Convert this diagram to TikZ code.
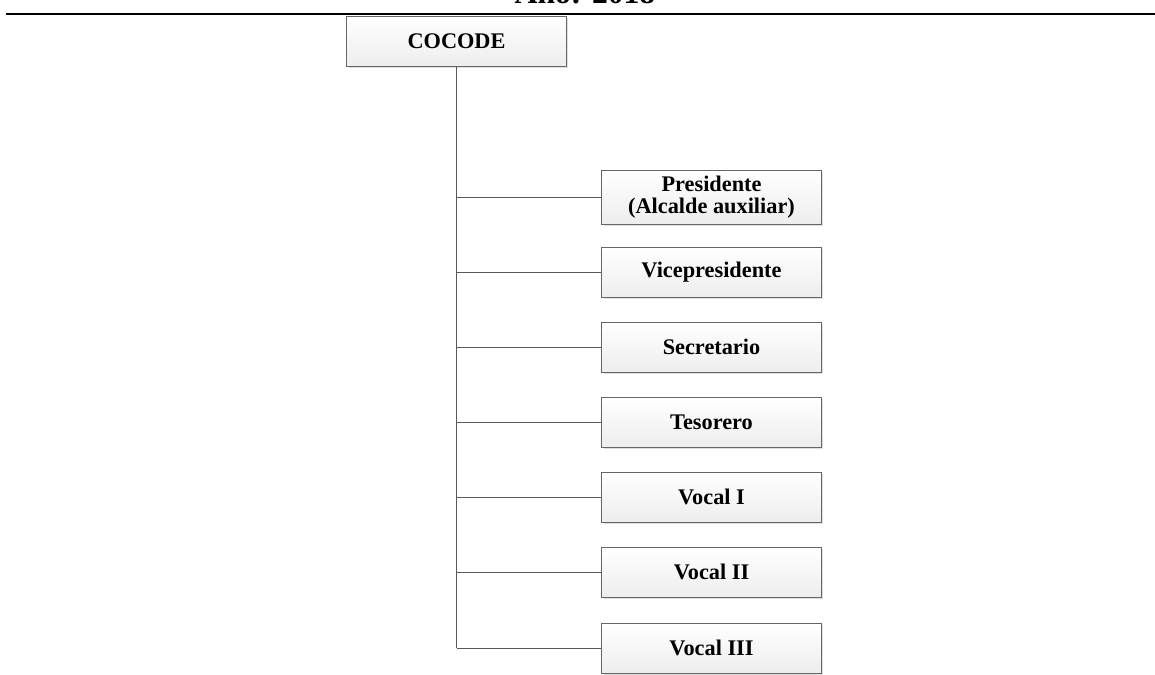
\documentclass[tikz,border=0pt]{standalone}
\usepackage{fontspec}
\setmainfont{Liberation Serif}
\usetikzlibrary{shadows}

\tikzset{
  cargo/.style={draw=gray!80!black,top color=white,bottom color=gray!14,
    minimum width=4.4cm,minimum height=1cm,align=center,
    font=\fontsize{12.7}{12.4}\selectfont\bfseries,
    drop shadow={shadow xshift=0.04cm,shadow yshift=-0.04cm,fill=gray!25,opacity=1}},
  rama/.style={draw=gray!70!black,line width=0.5pt}
}

\begin{document}
\begin{tikzpicture}[x=0.02cm,y=-0.02cm]
\useasboundingbox (0,0) rectangle (1155,675);

\node[anchor=base,font=\fontsize{18}{20}\selectfont\bfseries] (anio) at (585,4) {Año: 2018};
\coordinate (ra) at (6,14);
\coordinate (rb) at (1155,14);
\draw[line width=0.04cm] (ra)--(rb);

\node[cargo] (cocode) at (456.5,41) {COCODE};

\node[cargo] (pres) at (711.5,197) {Presidente\\(Alcalde auxiliar)};
\node[cargo] (vice) at (711.5,272) {Vicepresidente};
\node[cargo] (secr) at (711.5,347) {Secretario};
\node[cargo] (teso) at (711.5,422) {Tesorero};
\node[cargo] (vocI) at (711.5,497) {Vocal I};
\node[cargo] (vocII) at (711.5,572) {Vocal II};
\node[cargo] (vocIII) at (711.5,648) {Vocal III};

\draw[rama](cocode.south)--(cocode.south |- vocIII.west);
\draw[rama](cocode.south |- pres.west)--(pres.west);
\draw[rama](cocode.south |- vice.west)--(vice.west);
\draw[rama](cocode.south |- secr.west)--(secr.west);
\draw[rama](cocode.south |- teso.west)--(teso.west);
\draw[rama](cocode.south |- vocI.west)--(vocI.west);
\draw[rama](cocode.south |- vocII.west)--(vocII.west);
\draw[rama](cocode.south |- vocIII.west)--(vocIII.west);

\end{tikzpicture}
\end{document}
